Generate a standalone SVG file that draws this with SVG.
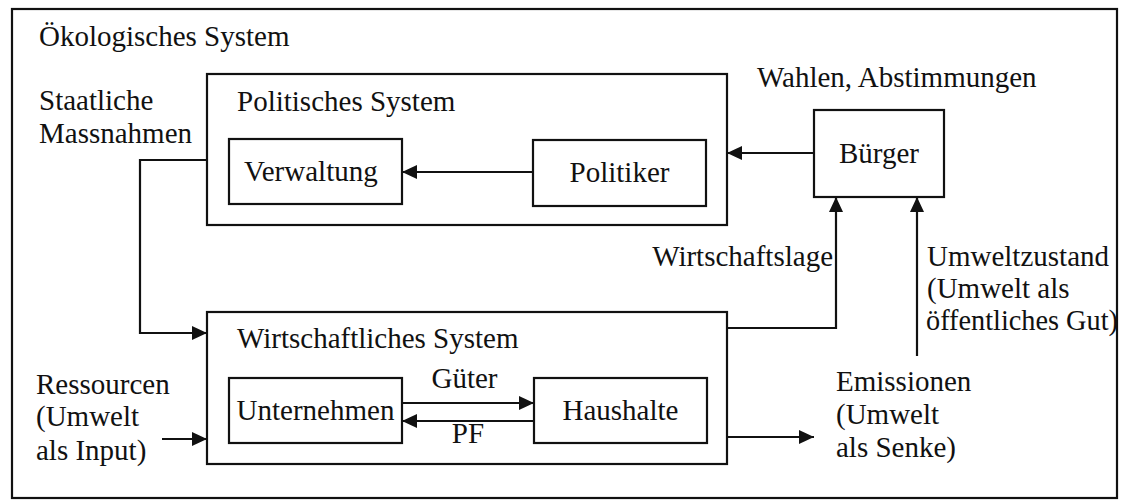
<svg xmlns="http://www.w3.org/2000/svg" width="1121" height="502" viewBox="0 0 1121 502">
<style>
.box{fill:#fff;stroke:#111;stroke-width:2.2}
.ln{fill:none;stroke:#111;stroke-width:2.2;marker-end:url(#ah)}
.tx{font-family:'Liberation Serif','DejaVu Serif','Times New Roman',serif;font-size:29px;fill:#111}
</style>
<defs>
<marker id="ah" markerUnits="userSpaceOnUse" markerWidth="16" markerHeight="16" viewBox="0 0 16 16" refX="15" refY="8" orient="auto">
<path d="M0,1 L15,8 L0,15 z" fill="#111"/>
</marker>
</defs>
<rect width="1121" height="502" fill="#fff"/>
<g class="tx">
<g id="oekologisches-system">
<rect class="box" x="12" y="9" width="1105" height="489"/>
<text x="39" y="46">Ökologisches System</text>
</g>
<g id="politisches-system">
<rect class="box" x="207" y="74" width="520" height="151"/>
<text x="237" y="111">Politisches System</text>
</g>
<g id="verwaltung">
<rect class="box" x="229" y="139" width="173" height="65"/>
<text x="244" y="181">Verwaltung</text>
</g>
<g id="politiker">
<rect class="box" x="533" y="140" width="173" height="66"/>
<text x="619.5" y="182" text-anchor="middle">Politiker</text>
</g>
<g id="buerger">
<rect class="box" x="814" y="110" width="130" height="87"/>
<text x="879" y="163" text-anchor="middle">Bürger</text>
</g>
<g id="wirtschaftliches-system">
<rect class="box" x="207" y="312" width="520" height="152"/>
<text x="237" y="348">Wirtschaftliches System</text>
</g>
<g id="unternehmen">
<rect class="box" x="229" y="378" width="173" height="65"/>
<text x="315.5" y="420" text-anchor="middle">Unternehmen</text>
</g>
<g id="haushalte">
<rect class="box" x="534" y="378" width="173" height="65"/>
<text x="620.5" y="420" text-anchor="middle">Haushalte</text>
</g>
<g id="labels">
<text x="39" y="110">Staatliche</text>
<text x="39" y="143">Massnahmen</text>
<text x="757" y="87">Wahlen, Abstimmungen</text>
<text x="833" y="266" text-anchor="end">Wirtschaftslage</text>
<text x="927" y="266">Umweltzustand</text>
<text x="927" y="298">(Umwelt als</text>
<text x="926" y="330" textLength="192" lengthAdjust="spacingAndGlyphs">öffentliches Gut)</text>
<text x="36" y="394">Ressourcen</text>
<text x="36" y="426">(Umwelt</text>
<text x="36" y="460">als Input)</text>
<text x="836" y="391">Emissionen</text>
<text x="836" y="424">(Umwelt</text>
<text x="836" y="457">als Senke)</text>
<text x="464.5" y="388" text-anchor="middle">Güter</text>
<text x="468" y="443" text-anchor="middle">PF</text>
</g>
</g>
<g id="connectors">
<path class="ln" d="M533,172 L402,172"/>
<path class="ln" d="M814,153 L727,153"/>
<path class="ln" d="M207,160 L140,160 L140,333 L207,333"/>
<path class="ln" d="M727,328 L836,328 L836,197"/>
<path class="ln" d="M917,356 L917,197"/>
<path class="ln" d="M402,403 L534,403"/>
<path class="ln" d="M534,421 L402,421"/>
<path class="ln" d="M162,439 L207,439"/>
<path class="ln" d="M727,437 L814,437"/>
</g>
</svg>
